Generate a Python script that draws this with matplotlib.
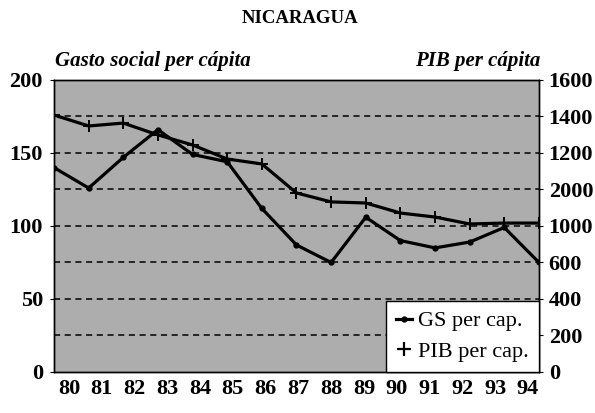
import matplotlib
matplotlib.use("Agg")
import matplotlib.pyplot as plt
import numpy as np
from matplotlib.lines import Line2D

years = ["80", "81", "82", "83", "84", "85", "86", "87", "88", "89", "90", "91", "92", "93", "94"]
gs_per_cap = [140, 126, 147, 166, 149, 144, 112, 87, 75, 106, 90, 85, 89, 99, 75]
pib_per_cap = [1408, 1348, 1364, 1299, 1244, 1167, 1140, 981, 932, 926, 871, 849, 811, 816, 816]
left_ticks = [0, 50, 100, 150, 200]
right_ticks = [0, 200, 400, 600, 800, 1000, 1200, 1400, 1600]
right_tick_labels = ["0", "200", "400", "600", "1000", "2000", "1200", "1400", "1600"]

plt.rcParams['font.family'] = ['Liberation Serif', 'DejaVu Serif']

fig = plt.figure(figsize=(5.95, 4.13), dpi=100)
ax = fig.add_axes([0.0908, 0.0993, 0.815, 0.707])
ax2 = ax.twinx()

ax.set_facecolor('#adadad')
ax.set_zorder(1)
ax2.set_zorder(2)
ax2.patch.set_visible(False)

x = np.arange(len(years))
ax.set_xlim(0, len(years) - 1)
ax.set_ylim(0, 200)
ax2.set_ylim(0, 1600)

for v in right_ticks[1:-1]:
    ax2.axhline(v, color='black', linestyle=(0, (4, 3)), linewidth=1.1, zorder=1)

ax2.plot(x, [g * 8 for g in gs_per_cap], color='black', linewidth=2.3, marker='o', markersize=3.5, zorder=3)
ax2.plot(x, pib_per_cap, color='black', linewidth=2.3, marker='+', markersize=8, markeredgewidth=1.4, zorder=3)

tick_pos = np.linspace(0.43, 13.68, len(years))
ax.set_xticks(tick_pos)
ax.set_xticklabels(years, fontsize=16, fontweight='bold')
ax.tick_params(axis='x', length=0, pad=5)

ax.set_yticks(left_ticks)
ax.set_yticklabels([str(t) for t in left_ticks], fontsize=16, fontweight='bold')
ax.tick_params(axis='y', length=3, pad=5, direction='out')

ax2.set_yticks(right_ticks)
ax2.set_yticklabels(right_tick_labels, fontsize=16, fontweight='bold')
ax2.tick_params(axis='y', length=3, pad=4, direction='out')

for a in (ax, ax2):
    for s in a.spines.values():
        s.set_color('black')
        s.set_linewidth(1.0)

handles = [
    Line2D([0], [0], color='black', linewidth=2.3, marker='o', markersize=3.5),
    Line2D([0], [0], color='none', marker='+', markersize=10, markeredgewidth=1.6, markeredgecolor='black'),
]
leg = ax2.legend(handles, ["GS per cap.", "PIB per cap."], loc='lower right',
                 bbox_to_anchor=(1.0, 0.0), fontsize=16, frameon=True, fancybox=False,
                 edgecolor='black', framealpha=1.0, handlelength=0.7, handletextpad=0.3,
                 borderpad=0.45, labelspacing=0.45, borderaxespad=0.0)
leg.get_frame().set_linewidth(1.0)

fig.text(0.505, 0.955, "NICARAGUA", ha='center', va='center', fontsize=13.5, fontweight='bold')
fig.text(0.093, 0.852, "Gasto social per cápita", ha='left', va='center', fontsize=15,
         fontstyle='italic', fontweight='bold')
fig.text(0.908, 0.852, "PIB per cápita", ha='right', va='center', fontsize=15,
         fontstyle='italic', fontweight='bold')

fig.savefig("out.png", dpi=100)
